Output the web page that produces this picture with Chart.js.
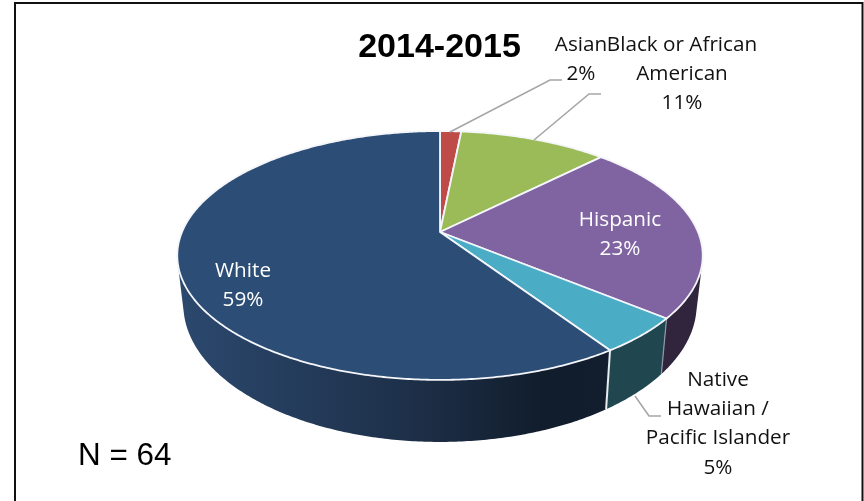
<!DOCTYPE html>
<html>
<head>
<meta charset="utf-8">
<title>2014-2015</title>
<script src="https://cdn.jsdelivr.net/npm/chart.js@4"></script>
<style>
  html, body { margin: 0; padding: 0; background: #fff; }
  canvas { display: block; }
</style>
</head>
<body>
<canvas id="pieChart" width="864" height="501"></canvas>
<script>
  'use strict';

  const chartTitle = '2014-2015';
  const categories = ['Asian', 'Black or African American', 'Hispanic', 'Native Hawaiian / Pacific Islander', 'White'];
  // head counts, they add up to N and round to the printed percentages
  const counts = [1, 7, 15, 3, 38];
  const topColors = ['#BE4B48', '#9BBB59', '#8064A2', '#4BACC6', '#2C4D75'];
  const wallColors = ['#7A2F2D', '#627A38', '#31253E', '#20464F', null];

  const total = counts.reduce((a, b) => a + b, 0);

  // where each label goes, and how it breaks over lines
  const labelLayout = [
    { lines: ['Asian'], x: 581, y: 45, color: '#111' },
    { lines: ['Black or African'], x: 682, y: 45, color: '#111', extra: ['American'] },
    { lines: ['Hispanic'], x: 620, y: 220, color: '#fff' },
    { lines: ['Native', 'Hawaiian /', 'Pacific Islander'], x: 718, y: 380, color: '#111' },
    { lines: ['White'], x: 243, y: 271, color: '#fff' }
  ];
  const leaders = [
    [[450, 132], [550, 80], [562, 80]],
    [[534, 140], [589, 94], [601, 94]],
    [[635, 396], [649, 416], [661, 416]]
  ];

  // the pie is seen in perspective: the unit circle goes through a projective map
  const tilt = 0.1887;
  const topRatioY = 120 / 258;
  const bottomRatioX = 0.977;
  const bottomRatioY = 132.6 / 258;
  const bottomDrop = 46.5;

  function project(el, angle, bottom) {
    const R = el.outerRadius;
    const u = Math.cos(angle);
    const v = Math.sin(angle);
    const w = 1 - tilt * v;
    if (bottom) {
      return [el.x + R * bottomRatioX * u / w, el.y + bottomDrop + R * bottomRatioY * v / w];
    }
    return [el.x + R * u / w, el.y + R * topRatioY * v / w];
  }

  function wallPath(ctx, el) {
    const steps = Math.max(2, Math.ceil((el.endAngle - el.startAngle) / 0.01));
    ctx.beginPath();
    for (let i = 0; i < steps; i++) {
      const a = el.startAngle + (el.endAngle - el.startAngle) * i / steps;
      const b = el.startAngle + (el.endAngle - el.startAngle) * (i + 1) / steps;
      let q = [project(el, a), project(el, b), project(el, b, true), project(el, a, true)];
      let area = 0;
      q.forEach((p, j) => {
        const n = q[(j + 1) % 4];
        area += p[0] * n[1] - n[0] * p[1];
      });
      if (area < 0) q = q.reverse();
      ctx.moveTo(q[0][0], q[0][1]);
      ctx.lineTo(q[1][0], q[1][1]);
      ctx.lineTo(q[2][0], q[2][1]);
      ctx.lineTo(q[3][0], q[3][1]);
      ctx.closePath();
    }
  }

  function topPath(ctx, el) {
    const steps = Math.max(2, Math.ceil((el.endAngle - el.startAngle) / 0.01));
    ctx.beginPath();
    ctx.moveTo(el.x, el.y);
    for (let i = 0; i <= steps; i++) {
      const p = project(el, el.startAngle + (el.endAngle - el.startAngle) * i / steps);
      ctx.lineTo(p[0], p[1]);
    }
    ctx.closePath();
  }

  function seam(ctx, el, angle, color, width) {
    const a = project(el, angle);
    const b = project(el, angle, true);
    ctx.strokeStyle = color;
    ctx.lineWidth = width;
    ctx.beginPath();
    ctx.moveTo(a[0], a[1]);
    ctx.lineTo(b[0], b[1]);
    ctx.stroke();
  }

  const pie3d = {
    id: 'pie3d',
    beforeDatasetDraw(chart) {
      const ctx = chart.ctx;
      const arcs = chart.getDatasetMeta(0).data;
      ctx.save();

      // side wall first, the top covers its back part
      arcs.forEach((el, i) => {
        wallPath(ctx, el);
        if (wallColors[i]) {
          ctx.fillStyle = wallColors[i];
        } else {
          const g = ctx.createLinearGradient(183, 0, 606, 0);
          g.addColorStop(0, '#2B486D');
          g.addColorStop(0.55, '#1D2F48');
          g.addColorStop(0.85, '#111D2C');
          g.addColorStop(1, '#121E2D');
          ctx.fillStyle = g;
        }
        ctx.fill();
      });
      seam(ctx, arcs[3], arcs[3].startAngle, '#8f9aa6', 1.2);
      seam(ctx, arcs[3], arcs[3].endAngle, '#e8eef2', 2);

      arcs.forEach(el => {
        topPath(ctx, el);
        ctx.fillStyle = el.options.backgroundColor;
        ctx.fill();
        ctx.strokeStyle = '#f4f6fa';
        ctx.lineWidth = 1.8;
        ctx.lineJoin = 'round';
        ctx.stroke();
      });

      ctx.restore();
      return false;
    },
    afterDatasetsDraw(chart) {
      const ctx = chart.ctx;
      ctx.save();

      // frame, the bottom edge is cut off in the original
      ctx.strokeStyle = '#111';
      ctx.lineWidth = 2;
      ctx.beginPath();
      ctx.moveTo(15, 501);
      ctx.lineTo(15, 3);
      ctx.lineTo(862.5, 3);
      ctx.lineTo(862.5, 501);
      ctx.stroke();

      ctx.strokeStyle = '#A6A6A6';
      ctx.lineWidth = 1.6;
      leaders.forEach(line => {
        ctx.beginPath();
        line.forEach((p, i) => i ? ctx.lineTo(p[0], p[1]) : ctx.moveTo(p[0], p[1]));
        ctx.stroke();
      });

      ctx.textAlign = 'center';
      ctx.textBaseline = 'middle';
      ctx.font = '20.7px "Open Sans"';
      counts.forEach((c, i) => {
        const lay = labelLayout[i];
        const lines = lay.lines.concat(lay.extra || [], Math.round(c / total * 100) + '%');
        ctx.fillStyle = lay.color;
        lines.forEach((t, j) => ctx.fillText(t, lay.x, lay.y + j * 29.3));
      });

      ctx.fillStyle = '#000';
      ctx.font = 'bold 34px "Liberation Sans"';
      ctx.fillText(chartTitle, 439.5, 48);
      ctx.textAlign = 'left';
      ctx.font = '31.4px "Liberation Sans"';
      ctx.fillText('N = ' + total, 78, 456);

      ctx.restore();
    }
  };

  new Chart(document.getElementById('pieChart'), {
    type: 'pie',
    data: {
      labels: categories,
      datasets: [{
        data: counts,
        backgroundColor: topColors,
        borderWidth: 0
      }]
    },
    options: {
      responsive: false,
      animation: false,
      radius: 258,
      layout: { padding: { left: 16, right: 0, top: 0, bottom: 37 } },
      plugins: {
        legend: { display: false },
        tooltip: { enabled: false }
      }
    },
    plugins: [pie3d]
  });
</script>
</body>
</html>
